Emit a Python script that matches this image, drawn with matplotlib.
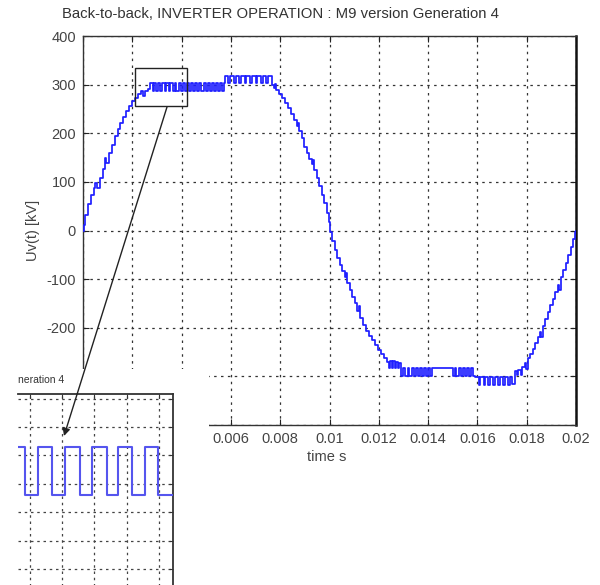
import matplotlib
matplotlib.use('Agg')
import matplotlib.pyplot as plt
from matplotlib.patches import Rectangle, FancyArrowPatch

# ---------------- text ----------------
title = "Back-to-back, INVERTER OPERATION : M9 version Generation 4"
inset_title = "neration 4"
x_label = "time s"
y_label = "Uv(t) [kV]"
x_ticks = [0, 0.002, 0.004, 0.006, 0.008, 0.01, 0.012, 0.014, 0.016, 0.018, 0.02]
# the first labels are hidden behind the inset in the reference
x_tick_labels = ["", "", "", "0.006", "0.008", "0.01", "0.012",
                 "0.014", "0.016", "0.018", "0.02"]
y_ticks = [-400, -300, -200, -100, 0, 100, 200, 300, 400]
y_tick_labels = ["", "", "-200", "-100", "0", "100", "200", "300", "400"]

# ---------------- waveform (step start time [s], level [kV]) ----------------
rise_t = [0.0, 0.00003, 0.00008, 0.00020, 0.00032, 0.00044, 0.00050, 0.00056, 0.00068,
          0.00080, 0.00088, 0.00094, 0.00104, 0.00116, 0.00128, 0.00140, 0.00152,
          0.00164, 0.00176, 0.00188, 0.00200, 0.00212, 0.00224, 0.00236, 0.00244,
          0.00250, 0.00262]
rise_v = [0, 12, 32, 55, 72, 88, 98, 88, 108,
          126, 150, 138, 160, 176, 194, 208, 222,
          234, 246, 256, 266, 272, 280, 286, 276,
          287, 292]

plateau1_t = [0.00272, 0.00282, 0.00290, 0.002969, 0.003050, 0.003136, 0.003217,
              0.003310, 0.003384, 0.003477, 0.003545, 0.003632, 0.003712, 0.003793,
              0.003900, 0.003975, 0.004060, 0.004140, 0.004225, 0.004305, 0.004390,
              0.004470, 0.004555, 0.004640, 0.004720, 0.004805, 0.004890, 0.004970,
              0.005055, 0.005140, 0.005220, 0.005305, 0.005390, 0.005470, 0.005555,
              0.005640, 0.005700]
plateau1_v = [303, 286, 303, 286, 303, 286, 303,
              286, 303, 286, 303, 286, 303, 286,
              303, 286, 303, 286, 303, 286, 303,
              286, 303, 286, 303, 286, 303, 286,
              303, 286, 303, 286, 303, 286, 303,
              286, 303]

plateau2_t = [0.00578, 0.00590, 0.00597, 0.00612, 0.00619, 0.00634, 0.00641, 0.00656,
              0.00663, 0.00678, 0.00685, 0.00700, 0.00707, 0.00722, 0.00729, 0.00744,
              0.00751]
plateau2_v = [318, 303, 318, 303, 318, 303, 318, 303,
              318, 303, 318, 303, 318, 303, 318, 303,
              318]

fall_t = [0.00765, 0.00774, 0.00780, 0.00784, 0.00796, 0.00808, 0.00820, 0.00832,
          0.00844, 0.00856, 0.00868, 0.00874, 0.00878, 0.00888, 0.00898, 0.00908,
          0.00918, 0.00928, 0.00934, 0.00938, 0.00948, 0.00958, 0.00968, 0.00978,
          0.00988, 0.00996, 0.01004, 0.01012, 0.01022, 0.01032, 0.01042, 0.01052,
          0.01062, 0.01068, 0.01072, 0.01082, 0.01092, 0.01102, 0.01112, 0.01118,
          0.01124, 0.01136, 0.01148, 0.01160, 0.01172, 0.01184, 0.01196, 0.01208,
          0.01220, 0.01232, 0.01240, 0.01246, 0.01252, 0.01258, 0.01264, 0.01270,
          0.01276, 0.01282]
fall_v = [300, 294, 302, 288, 280, 272, 262, 252,
          240, 228, 214, 222, 204, 190, 172, 160,
          148, 136, 146, 124, 108, 92, 74, 56,
          36, 18, -4, -22, -40, -56, -70, -84,
          -96, -88, -108, -122, -136, -150, -166, -156,
          -180, -194, -206, -216, -226, -236, -246, -254,
          -262, -270, -282, -268, -282, -268, -282, -270,
          -282, -272]

plateau3_t = [0.01290, 0.01300, 0.01307, 0.01317, 0.01324, 0.01334, 0.01341, 0.01351,
              0.01358, 0.01368, 0.01375, 0.01385, 0.01392, 0.01400, 0.01408, 0.01414,
              0.01500, 0.01508, 0.01515, 0.01524, 0.01532, 0.01541, 0.01549, 0.01558,
              0.01566, 0.01575, 0.01583]
plateau3_v = [-300, -283, -300, -283, -300, -283, -300, -283,
              -300, -283, -300, -283, -300, -283, -300, -283,
              -300, -283, -300, -283, -300, -283, -300, -283,
              -300, -283, -300]

plateau4_t = [0.01592, 0.01605, 0.01612, 0.01625, 0.01632, 0.01645, 0.01652, 0.01665,
              0.01672, 0.01685, 0.01692, 0.01705, 0.01712, 0.01725, 0.01732, 0.01742]
plateau4_v = [-301, -317, -301, -317, -301, -317, -301, -317,
              -301, -317, -301, -317, -301, -317, -301, -316]

rise2_t = [0.01752, 0.01760, 0.01766, 0.01776, 0.01782, 0.01792, 0.01798, 0.01804,
           0.01814, 0.01824, 0.01834, 0.01844, 0.01854, 0.01860, 0.01866, 0.01876,
           0.01886, 0.01896, 0.01906, 0.01916, 0.01926, 0.01932, 0.01938, 0.01948,
           0.01958, 0.01968, 0.01978, 0.01988, 0.01996, 0.02]
rise2_v = [-288, -298, -286, -298, -280, -272, -284, -262,
           -254, -244, -232, -220, -208, -218, -196, -182,
           -168, -154, -140, -126, -112, -122, -96, -82,
           -66, -50, -34, -18, -4, 0]

zoom_box_t = (0.0021, 0.0042)
zoom_box_v = (256, 334)
inset_xlim = (0.002926, 0.003887)
inset_ylim = (250, 321.6)
inset_x_grid = [0.0030, 0.0032, 0.0034, 0.0036, 0.0038]
inset_y_grid = [260, 270, 280, 290, 300, 310, 320]

t_all = rise_t + plateau1_t + plateau2_t + fall_t + plateau3_t + plateau4_t + rise2_t
v_all = rise_v + plateau1_v + plateau2_v + fall_v + plateau3_v + plateau4_v + rise2_v

# ---------------- figure ----------------
W, H = 600, 585
plt.rcParams['font.family'] = ['Liberation Sans', 'DejaVu Sans']
fig = plt.figure(figsize=(W / 100, H / 100), dpi=100)
fig.patch.set_facecolor('white')

def fx(px):
    return px / W

def fy(py):
    return 1 - py / H

ax = fig.add_axes([fx(83), fy(425), (576 - 83) / W, (425 - 36) / H])
ax.step(t_all, v_all, where='post', color='#1f1fff', lw=1.25, zorder=3)
ax.set_xlim(0, 0.02)
ax.set_ylim(-400, 400)
ax.set_xticks(x_ticks)
ax.set_xticklabels(x_tick_labels)
ax.set_yticks(y_ticks)
ax.set_yticklabels(y_tick_labels)
ax.tick_params(direction='in', length=4, top=True, right=True, labelsize=10.5,
               labelcolor='#444444', color='#222222', pad=5)
ax.grid(True, color='#333333', linestyle=(0, (2, 3.5)), lw=0.9)
for s in ax.spines.values():
    s.set_color('#333333')
    s.set_linewidth(1.0)
ax.spines['right'].set_linewidth(1.8)
ax.spines['right'].set_color('#111111')

ax.add_patch(Rectangle((zoom_box_t[0], zoom_box_v[0]), zoom_box_t[1] - zoom_box_t[0],
                       zoom_box_v[1] - zoom_box_v[0], fill=False, ec='#222222', lw=1.0,
                       zorder=4))

fig.text(fx(280), fy(14), title, ha='center', va='center', fontsize=10.7, color='#333333')
fig.text(fx(33), fy(230), y_label, ha='center', va='center', rotation=90, fontsize=10.5,
         color='#444444')
fig.text(fx(327), fy(457), x_label, ha='center', va='center', fontsize=10.5,
         color='#444444')

# white cover for inset
cover = Rectangle((0, 0), fx(209), (H - 369) / H, transform=fig.transFigure,
                  facecolor='white', edgecolor='none', zorder=5)
fig.add_artist(cover)

fig.text(fx(18), fy(380), inset_title, ha='left', va='center', fontsize=7.5,
         color='#333333', zorder=6)

axi = fig.add_axes([fx(18), fy(597.5), (173 - 18) / W, (597.5 - 394) / H], zorder=6)
axi.step(t_all, v_all, where='post', color='#5555ee', lw=1.5, zorder=3)
axi.set_xlim(*inset_xlim)
axi.set_ylim(*inset_ylim)
axi.set_xticks(inset_x_grid)
axi.set_yticks(inset_y_grid)
axi.tick_params(direction='in', length=3, top=True, right=True, bottom=False, left=False,
                labelbottom=False, labelleft=False, color='#333333')
axi.grid(True, color='#444444', linestyle=(0, (2, 3)), lw=0.9)
axi.spines['left'].set_visible(False)
axi.spines['bottom'].set_visible(False)
axi.spines['top'].set_color('#333333')
axi.spines['right'].set_color('#333333')
axi.spines['top'].set_linewidth(1.3)
axi.spines['right'].set_linewidth(1.3)

arrow = FancyArrowPatch((fx(167), fy(107)), (fx(64), fy(436)), transform=fig.transFigure,
                        arrowstyle='-|>', mutation_scale=11, lw=1.0, color='#222222',
                        shrinkA=0, shrinkB=0, zorder=10)
fig.add_artist(arrow)

fig.savefig('out.png', dpi=100, facecolor='white')
